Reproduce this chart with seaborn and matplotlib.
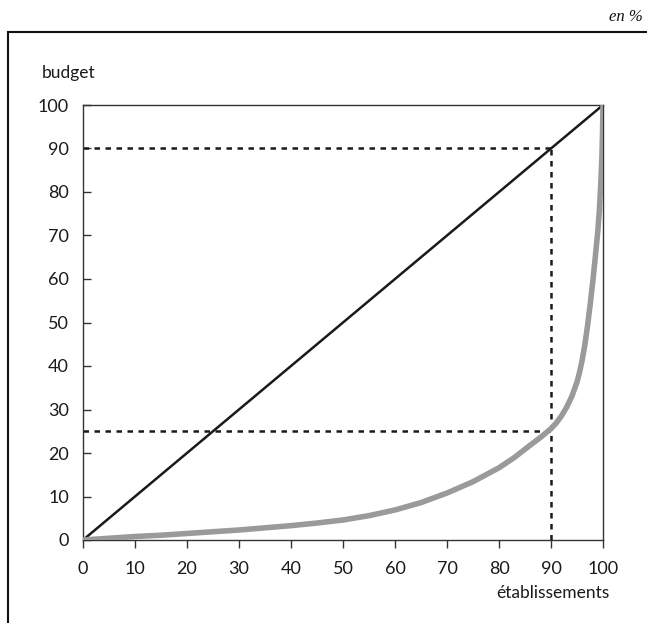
import matplotlib
matplotlib.use("Agg")
import matplotlib.pyplot as plt
import seaborn as sns
import pandas as pd
from matplotlib.patches import Rectangle

# Data
x_ticks = [0, 10, 20, 30, 40, 50, 60, 70, 80, 90, 100]
y_ticks = [0, 10, 20, 30, 40, 50, 60, 70, 80, 90, 100]
etab = [0, 5, 10, 15, 20, 25, 30, 35, 40, 45, 50, 55, 60, 65, 70, 75, 80, 83, 86, 88, 90,
        91, 92, 93, 94, 95, 95.5, 96, 96.5, 97, 97.5, 98, 98.5, 99, 99.3, 99.6, 99.8, 99.9, 100]
budget = [0, 0.4, 0.8, 1.1, 1.5, 1.9, 2.3, 2.8, 3.3, 3.9, 4.6, 5.6, 6.9, 8.6, 10.8, 13.4, 16.6,
          19.0, 21.8, 23.6, 25.6, 26.9, 28.5, 30.5, 33.0, 36.3, 38.6, 41.4, 44.8, 49.0, 53.8,
          59.0, 64.8, 71.0, 75.8, 82.5, 88.5, 93.0, 100]
equal = [0, 100]
ref_x = 90
ref_y_high = 90
ref_y_low = 25

sns.set_theme(style="white")
plt.rcParams['font.family'] = ['Lato', 'DejaVu Sans']

fig = plt.figure(figsize=(6.47, 6.23), dpi=100)
ax = fig.add_axes([83/647, (623-540)/623, (603-83)/647, (540-105)/623])

df_curve = pd.DataFrame({"etab": etab, "budget": budget})
df_eq = pd.DataFrame({"etab": equal, "budget": equal})

# dashed reference lines
dash = (0, (2.2, 2.2))
ax.plot([0, ref_x], [ref_y_high, ref_y_high], color="#1a1a1a", lw=1.8, ls=dash, zorder=2)
ax.plot([0, ref_x], [ref_y_low, ref_y_low], color="#1a1a1a", lw=1.8, ls=dash, zorder=2)
ax.plot([ref_x, ref_x], [0, ref_y_high], color="#1a1a1a", lw=1.8, ls=dash, zorder=2)

sns.lineplot(data=df_eq, x="etab", y="budget", ax=ax, color="#1a1a1a", lw=1.8, zorder=3)
sns.lineplot(data=df_curve, x="etab", y="budget", ax=ax, color="#9a9a9c", lw=4, sort=False, zorder=4)

ax.set_xlim(0, 100)
ax.set_ylim(0, 100)
ax.set_xticks(x_ticks)
ax.set_yticks(y_ticks)
ax.set_xlabel("")
ax.set_ylabel("")
ax.tick_params(axis="x", direction="out", length=6, width=1, color="#333333", pad=9,
               labelsize=13, labelcolor="#1a1a1a", bottom=True)
ax.tick_params(axis="y", direction="in", length=6, width=1, color="#333333", pad=10,
               labelsize=13, labelcolor="#1a1a1a", left=True)
for s in ax.spines.values():
    s.set_color("#333333")
    s.set_linewidth(1.0)

fig.text(42/647, 1 - 73/623, "budget", fontsize=12.5, color="#1a1a1a",
         ha="left", va="center")
fig.text(553/647, 1 - 593/623, "établissements", fontsize=12.5, color="#1a1a1a",
         ha="center", va="center")
fig.text(643/647, 1 - 17/623, "en %", fontsize=12, style="italic", family="Liberation Serif",
         color="#111111", ha="right", va="center")

# outer frame
fig.patches.append(Rectangle((8/647, -0.05), 1.0, 1 - 32/623 + 0.05, transform=fig.transFigure,
                             fill=False, edgecolor="#111111", lw=1.5))

fig.savefig("out.png", dpi=100)
